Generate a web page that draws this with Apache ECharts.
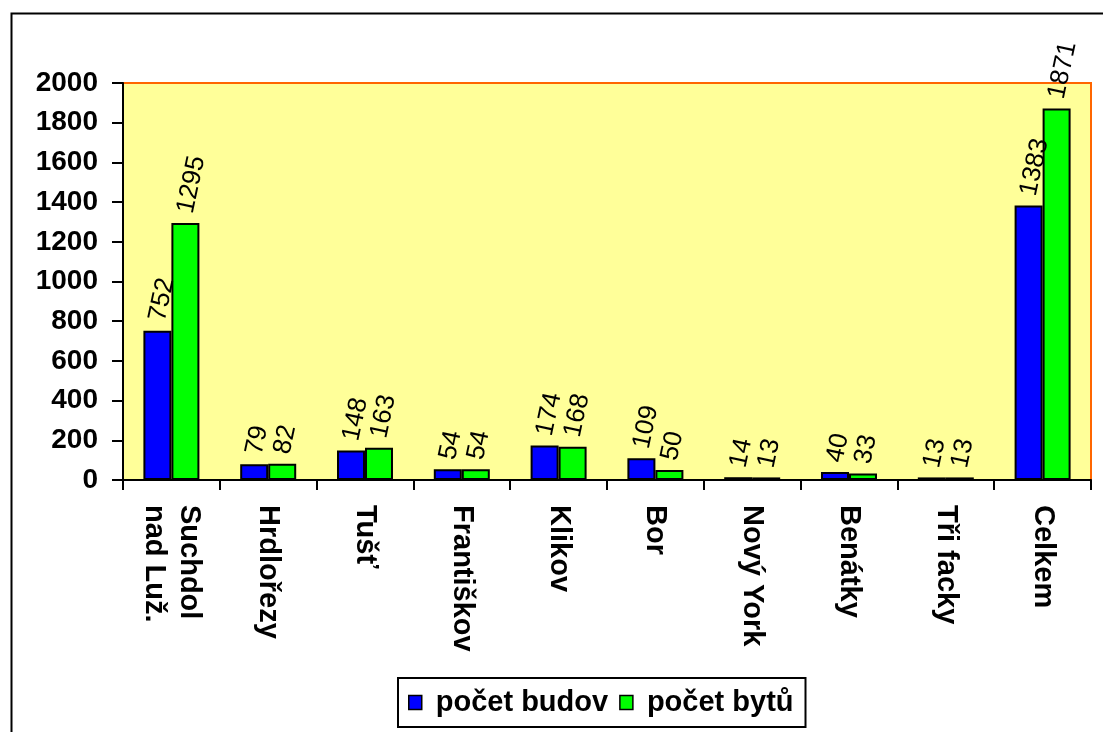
<!DOCTYPE html>
<html>
<head>
<meta charset="utf-8">
<script src="https://cdn.jsdelivr.net/npm/echarts@6/dist/echarts.min.js"></script>
<style>
  html, body { margin: 0; padding: 0; background: #fff; }
  #chart { width: 1103px; height: 732px; }
</style>
</head>
<body>
<div id="chart"></div>
<script>
// data
const categories = ['Suchdol\nnad Luž.', 'Hrdlořezy', 'Tušť', 'Františkov', 'Klikov', 'Bor', 'Nový York', 'Benátky', 'Tři facky', 'Celkem']
const pocetBudov = [752, 79, 148, 54, 174, 109, 14, 40, 13, 1383]
const pocetBytu = [1295, 82, 163, 54, 168, 50, 13, 33, 13, 1871]
const seriesNames = ['počet budov', 'počet bytů']

const FONT = "'Liberation Sans', Arial, sans-serif"

const valueLabel = {
  show: true,
  position: 'top',
  rotate: 78,
  align: 'left',
  verticalAlign: 'middle',
  distance: 10,
  color: '#000',
  fontFamily: FONT,
  fontSize: 26
}

const chart = echarts.init(document.getElementById('chart'), null, { renderer: 'canvas' })

chart.setOption({
  animation: false,
  backgroundColor: '#fff',
  textStyle: { fontFamily: FONT },
  graphic: [{
    // outer chart frame (only left/top edges visible)
    type: 'rect',
    left: 9, top: 11,
    shape: { width: 1200, height: 1000 },
    style: { fill: 'none', stroke: '#000', lineWidth: 2 },
    z: 0
  }],
  grid: {
    left: 123, top: 83, right: 12, bottom: 252,
    show: true,
    backgroundColor: '#FFFF99',
    borderColor: '#FF6600',
    borderWidth: 2,
    containLabel: false
  },
  legend: {
    left: 398, top: 678,
    data: seriesNames,
    orient: 'horizontal',
    icon: 'rect',
    itemWidth: 13, itemHeight: 14,
    itemGap: 11,
    padding: [10, 12, 10, 10],
    borderColor: '#000',
    borderWidth: 2,
    itemStyle: { borderColor: '#000', borderWidth: 1.5 },
    textStyle: { fontFamily: FONT, fontSize: 29, fontWeight: 'bold', color: '#000', padding: [0, 0, 0, 9] }
  },
  xAxis: {
    type: 'category',
    data: categories,
    axisLine: { lineStyle: { color: '#000', width: 2 } },
    axisTick: { show: true, length: 10, lineStyle: { color: '#000', width: 2 } },
    axisLabel: {
      interval: 0,
      rotate: -90,
      margin: 25,
      color: '#000',
      fontFamily: FONT,
      fontSize: 29,
      fontWeight: 'bold',
      lineHeight: 35
    },
    splitLine: { show: false }
  },
  yAxis: {
    type: 'value',
    min: 0, max: 2000, interval: 200,
    axisLine: { show: true, lineStyle: { color: '#000', width: 2 } },
    axisTick: { show: true, length: 11, lineStyle: { color: '#000', width: 2 } },
    axisLabel: {
      margin: 25,
      color: '#000',
      fontFamily: FONT,
      fontSize: 28,
      fontWeight: 'bold',
      formatter: (v) => String(v)
    },
    splitLine: { show: false }
  },
  series: [
    {
      name: seriesNames[0],
      type: 'bar',
      data: pocetBudov,
      barWidth: 28,
      barGap: '0%',
      itemStyle: { color: '#0000FF', borderColor: '#000', borderWidth: 2 },
      label: valueLabel
    },
    {
      name: seriesNames[1],
      type: 'bar',
      data: pocetBytu,
      barWidth: 28,
      barGap: '0%',
      itemStyle: { color: '#00FF00', borderColor: '#000', borderWidth: 2 },
      label: valueLabel
    }
  ]
})
</script>
</body>
</html>
